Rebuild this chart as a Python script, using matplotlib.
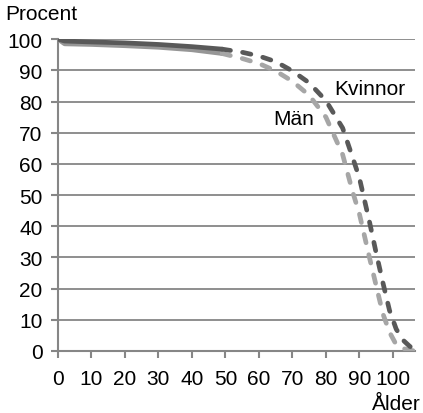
import matplotlib
matplotlib.use('Agg')
import matplotlib.pyplot as plt

plt.rcParams['font.family'] = ['Liberation Sans', 'DejaVu Sans']

# solid part, ages 0-49
ages_solid = [0, 2, 10, 20, 30, 40, 49]
women_solid = [100, 99.4, 99.1, 98.8, 98.3, 97.6, 96.8]
men_solid = [100, 98.5, 98.3, 97.9, 97.4, 96.6, 95.4]

# dashed part, ages 49-107
ages_dash = [49, 55, 60, 65, 70, 75, 80, 85, 88, 90, 93, 95, 97, 99, 101, 103, 105, 107]
women_dash = [96.8, 95.8, 94.6, 92.8, 89.8, 86.0, 80.3, 71.5, 62.0, 55.5, 41.5, 31.5, 22.0, 13.0, 7.0, 3.5, 1.5, 0]
men_dash = [95.4, 93.8, 92.2, 89.8, 86.5, 82.0, 75.0, 63.0, 51.0, 44.0, 30.0, 21.0, 12.0, 6.0, 2.0, 0.8, 0.2, 0]

x_ticks = list(range(0, 101, 10))
y_ticks = list(range(0, 101, 10))

dark = '#595959'
light = '#a6a6a6'
axis_grey = '#868686'

fig = plt.figure(figsize=(4.23, 4.14), dpi=100)
ax = fig.add_axes([0.137, 0.150, 0.844, 0.753])

ax.plot(ages_solid, men_solid, color='#969696', lw=3.4, solid_capstyle='round', zorder=3)
ax.plot(ages_solid, women_solid, color=dark, lw=3.4, solid_capstyle='round', zorder=4)
ax.plot(ages_dash, men_dash, color=light, lw=3.4, dashes=(1.8, 2.6),
        dash_capstyle='round', zorder=3)
ax.plot(ages_dash, women_dash, color=dark, lw=3.4, dashes=(1.8, 2.6),
        dash_capstyle='round', zorder=4)

ax.set_xlim(0, 106.6)
ax.set_ylim(0, 100)
ax.set_xticks(x_ticks)
ax.set_yticks(y_ticks)
ax.tick_params(labelsize=15, colors=axis_grey, labelcolor='black',
               length=5, width=1.5)
ax.tick_params(axis='y', pad=6)
ax.tick_params(axis='x', pad=8)
ax.grid(axis='y', color=axis_grey, lw=1.3)
ax.set_axisbelow(True)
for s in ['top', 'right']:
    ax.spines[s].set_visible(False)
for s in ['left', 'bottom']:
    ax.spines[s].set_color(axis_grey)
    ax.spines[s].set_linewidth(1.5)

fig.text(0.012, 0.965, 'Procent', fontsize=15, va='center')
fig.text(0.995, 0.024, 'Ålder', fontsize=15, ha='right', va='center')
ax.text(82.6, 84.3, 'Kvinnor', fontsize=15, va='center')
ax.text(64.2, 74.6, 'Män', fontsize=15, va='center')

fig.savefig('out.png', dpi=100)
